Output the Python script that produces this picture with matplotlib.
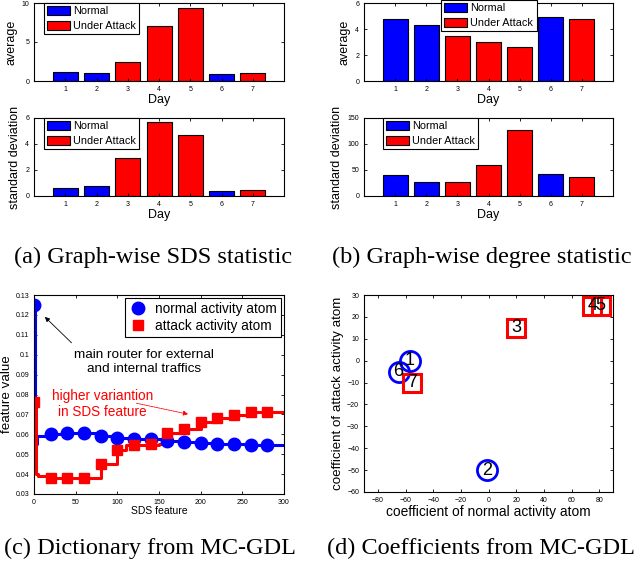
import matplotlib
matplotlib.use('Agg')
import matplotlib.pyplot as plt
from matplotlib.lines import Line2D
from matplotlib.patches import Patch

plt.rcParams['font.family'] = ['Liberation Sans', 'DejaVu Sans']

# ---- data -------------------------------------------------------------
days = [1, 2, 3, 4, 5, 6, 7]
attacked = [False, False, True, True, True, False, True]

sds_avg = [1.1, 1.0, 2.4, 7.1, 9.4, 0.85, 1.0]
sds_std = [0.6, 0.75, 2.9, 5.7, 4.7, 0.35, 0.45]
deg_avg = [4.8, 4.3, 3.5, 3.0, 2.6, 4.9, 4.8]
deg_std = [40, 27, 27, 59, 127, 42, 36]

# dictionary atoms (markers every 20 SDS features)
atom_x = [0, 20, 40, 60, 80, 100, 120, 140, 160, 180, 200, 220, 240, 260, 280]
normal_atom = [0.125, 0.0602, 0.0606, 0.0607, 0.0593, 0.0580, 0.0576, 0.0576,
               0.0565, 0.0560, 0.0555, 0.0550, 0.0550, 0.0545, 0.0545]
attack_atom = [0.076, 0.0382, 0.0381, 0.0380, 0.0450, 0.0522, 0.0545, 0.0553,
               0.0605, 0.0628, 0.0662, 0.0682, 0.0695, 0.0710, 0.0712]

# full step traces
normal_line_x = [0, 1, 3, 20, 40, 60, 80, 100, 120, 140, 160, 180, 200, 220,
                 240, 260, 280, 300]
normal_line_y = [0.125, 0.055, 0.059, 0.0602, 0.0606, 0.0607, 0.0593, 0.0580,
                 0.0576, 0.0576, 0.0565, 0.0560, 0.0555, 0.0550, 0.0550, 0.0545,
                 0.0545, 0.0545]
attack_line_x = [0, 2, 5, 20, 40, 60, 80, 100, 110, 120, 150, 160, 180, 200,
                 220, 240, 260, 280, 300]
attack_line_y = [0.076, 0.040, 0.0388, 0.0382, 0.0381, 0.0380, 0.0450, 0.0522,
                 0.0545, 0.0545, 0.0553, 0.0605, 0.0628, 0.0662, 0.0682, 0.0695,
                 0.0710, 0.0712, 0.0712]

# MC-GDL coefficients per day
coef_normal = [-57, -1, 20, 75, 81, -65, -55]
coef_attack = [0, -50, 15, 25, 25, -5, -10]
day_labels = ['1', '2', '3', '4', '5', '6', '7']

BLUE = '#0000ff'
RED = '#ff0000'
W, H = 638, 564
TICK_FS = 5


def px_axes(fig, left, top, right, bottom):
    return fig.add_axes([left / W, 1 - bottom / H, (right - left) / W,
                         (bottom - top) / H])


def style(ax):
    ax.tick_params(direction='in', top=True, right=True, labelsize=TICK_FS,
                   length=2.5, width=0.6, pad=3.5)
    for s in ax.spines.values():
        s.set_linewidth(0.8)


def bar_panel(ax, values, ylim, yticks, ylabel, anchor):
    colors = [RED if a else BLUE for a in attacked]
    ax.bar(days, values, width=0.8, color=colors, edgecolor='black',
           linewidth=0.8)
    ax.set_xlim(0, 8)
    ax.set_xticks(days)
    ax.set_ylim(*ylim)
    ax.set_yticks(yticks)
    style(ax)
    ax.set_xlabel('Day', fontsize=9, labelpad=1)
    ax.set_ylabel(ylabel, fontsize=9, labelpad=3)
    handles = [Patch(facecolor=BLUE, edgecolor='black', linewidth=0.8,
                     label='Normal'),
               Patch(facecolor=RED, edgecolor='black', linewidth=0.8,
                     label='Under Attack')]
    leg = ax.legend(handles=handles, loc='upper left', bbox_to_anchor=anchor,
                    borderaxespad=0, fontsize=7.8, handlelength=2.1,
                    handleheight=0.9, handletextpad=0.3, labelspacing=0.4,
                    borderpad=0.3, fancybox=False, framealpha=1,
                    edgecolor='black')
    leg.get_frame().set_linewidth(0.8)


fig = plt.figure(figsize=(W / 100, H / 100), dpi=100)

# (a)
ax = px_axes(fig, 34, 3, 284, 81)
bar_panel(ax, sds_avg, (0, 10), [0, 5, 10], 'average', (0.04, 1.0))
ax = px_axes(fig, 34, 118, 284, 196)
bar_panel(ax, sds_std, (0, 6), [0, 2, 4, 6], 'standard deviation', (0.04, 1.0))

# (b)
ax = px_axes(fig, 364, 3, 613, 81)
bar_panel(ax, deg_avg, (0, 6), [0, 2, 4, 6], 'average', (0.31, 1.04))
ax = px_axes(fig, 364, 118, 613, 196)
bar_panel(ax, deg_std, (0, 150), [0, 50, 100, 150], 'standard deviation',
          (0.076, 1.0))

# (c)
ax = px_axes(fig, 34, 295, 284, 494)
ax.step(normal_line_x, normal_line_y, where='post', color=BLUE, lw=2.2)
ax.step(attack_line_x, attack_line_y, where='post', color=RED, lw=2.2)
ax.plot(atom_x, normal_atom, 'o', color=BLUE, ms=9, ls='none')
ax.plot(atom_x, attack_atom, 's', color=RED, ms=7.8, ls='none')
ax.set_xlim(0, 300)
ax.set_ylim(0.03, 0.13)
ax.set_xticks([0, 50, 100, 150, 200, 250, 300])
ax.set_yticks([0.03, 0.04, 0.05, 0.06, 0.07, 0.08, 0.09, 0.1, 0.11, 0.12, 0.13])
ax.set_yticklabels(['0.03', '0.04', '0.05', '0.06', '0.07', '0.08', '0.09',
                    '0.1', '0.11', '0.12', '0.13'])
style(ax)
ax.set_xlabel('SDS feature', fontsize=7.5, labelpad=0)
ax.set_ylabel('feature value', fontsize=9.6, labelpad=2)
handles = [Line2D([], [], marker='o', color=BLUE, ls='none', ms=9,
                  label='normal activity atom'),
           Line2D([], [], marker='s', color=RED, ls='none', ms=7.8,
                  label='attack activity atom')]
leg = ax.legend(handles=handles, loc='upper right', bbox_to_anchor=(1, 1),
                borderaxespad=0.25, fontsize=9.8, handlelength=1.4,
                handletextpad=0.6, labelspacing=0.25, borderpad=0.25,
                fancybox=False, framealpha=1, edgecolor='black')
leg.get_frame().set_linewidth(0.8)
ax.text(132, 0.0963, 'main router for external\nand internal traffics',
        ha='center', va='center', fontsize=9.7, linespacing=1.2)
ax.annotate('', xy=(13, 0.119), xytext=(45, 0.106),
            arrowprops=dict(arrowstyle='-|>', color='black', lw=0.6,
                            mutation_scale=7, shrinkA=0, shrinkB=0))
ax.text(82, 0.0754, 'higher variantion\nin SDS feature', ha='center',
        va='center', fontsize=9.8, color=RED, linespacing=1.2)
ax.annotate('', xy=(185, 0.0701), xytext=(123, 0.0756),
            arrowprops=dict(arrowstyle='-|>', color=RED, lw=0.6,
                            linestyle=(0, (2, 1)), mutation_scale=7,
                            shrinkA=0, shrinkB=0))

# (d)
ax = px_axes(fig, 364, 295, 613, 492)
for i in range(len(days)):
    if attacked[i]:
        ax.plot(coef_normal[i], coef_attack[i], 's', mfc='none', mec=RED,
                mew=2.2, ms=12.5)
    else:
        ax.plot(coef_normal[i], coef_attack[i], 'o', mfc='none', mec=BLUE,
                mew=2.0, ms=14.5)
for i in range(len(days)):
    ax.text(coef_normal[i], coef_attack[i], day_labels[i], ha='center',
            va='center', fontsize=13)
ax.set_xlim(-90, 90)
ax.set_ylim(-60, 30)
ax.set_xticks([-80, -60, -40, -20, 0, 20, 40, 60, 80])
ax.set_yticks([-60, -50, -40, -30, -20, -10, 0, 10, 20, 30])
style(ax)
ax.set_xlabel('coefficient of normal activity atom', fontsize=9.9, labelpad=1)
ax.set_ylabel('coefficient of attack activity atom', fontsize=9.6, labelpad=2)

# captions
cap = dict(ha='center', va='center', fontsize=17.5,
           family=['Liberation Serif', 'DejaVu Serif'])
fig.text(153 / W, 1 - 257 / H, '(a) Graph-wise SDS statistic', **cap)
fig.text(482 / W, 1 - 257 / H, '(b) Graph-wise degree statistic', **cap)
fig.text(150 / W, 1 - 548 / H, '(c) Dictionary from MC-GDL', **cap)
fig.text(481 / W, 1 - 548 / H, '(d) Coefficients from MC-GDL', **cap)

fig.savefig('out.png', dpi=100)
